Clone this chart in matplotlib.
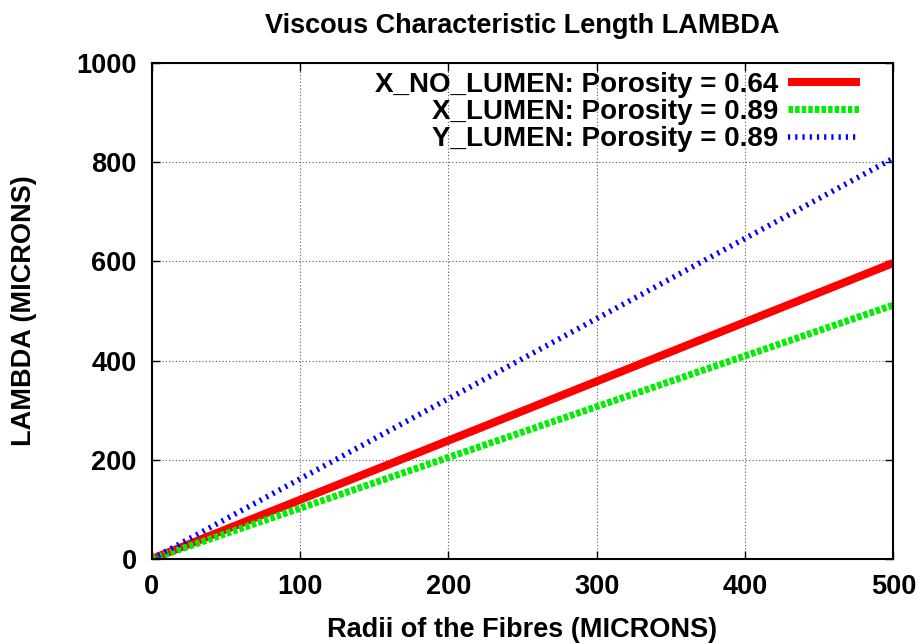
import matplotlib
matplotlib.use('Agg')
import matplotlib.pyplot as plt

plt.rcParams['font.family'] = ['Liberation Sans', 'DejaVu Sans']
plt.rcParams['font.weight'] = 'bold'

radii = [0, 500]
x_no_lumen = [0, 597]
x_lumen = [0, 512]
y_lumen = [0, 808]
labels = ['X_NO_LUMEN: Porosity = 0.64',
          'X_LUMEN: Porosity = 0.89',
          'Y_LUMEN: Porosity = 0.89']

fig = plt.figure(figsize=(9.2, 6.44), dpi=100)
ax = fig.add_axes([0.165, 0.132, 0.806, 0.770])

ax.plot(radii, x_no_lumen, color='#ff0000', lw=5.8, solid_capstyle='butt', label=labels[0])
ax.plot(radii, x_lumen, color='#00ee00', lw=5.0, dashes=(0.65, 0.3), label=labels[1])
ax.plot(radii, y_lumen, color='#0000ff', lw=4.0, dashes=(0.4, 0.9), label=labels[2])

ax.set_xlim(0, 500)
ax.set_ylim(0, 1000)
ax.set_xticks([0, 100, 200, 300, 400, 500])
ax.set_yticks([0, 200, 400, 600, 800, 1000])
ax.tick_params(direction='in', top=True, right=True, length=6, width=1,
               labelsize=19.5, pad=11)
for lab in ax.get_xticklabels() + ax.get_yticklabels():
    lab.set_fontweight('bold')
ax.grid(True, color='#555555', linestyle=(0, (1, 2)), lw=0.8)
for s in ax.spines.values():
    s.set_linewidth(1.5)

ax.set_title('Viscous Characteristic Length LAMBDA', fontsize=19.5,
             fontweight='bold', pad=22)
ax.set_xlabel('Radii of the Fibres (MICRONS)', fontsize=19.5, fontweight='bold',
              labelpad=12)
ax.set_ylabel('LAMBDA (MICRONS)', fontsize=19.5, fontweight='bold', labelpad=28)

leg = ax.legend(loc='upper right', bbox_to_anchor=(0.955, 0.982),
                frameon=False, markerfirst=False, fontsize=20,
                handlelength=2.6, borderaxespad=0, borderpad=0,
                labelspacing=0.04, handletextpad=0.35)
for t in leg.get_texts():
    t.set_fontweight('bold')
    t.set_ha('right')

fig.savefig('out.png', dpi=100)
